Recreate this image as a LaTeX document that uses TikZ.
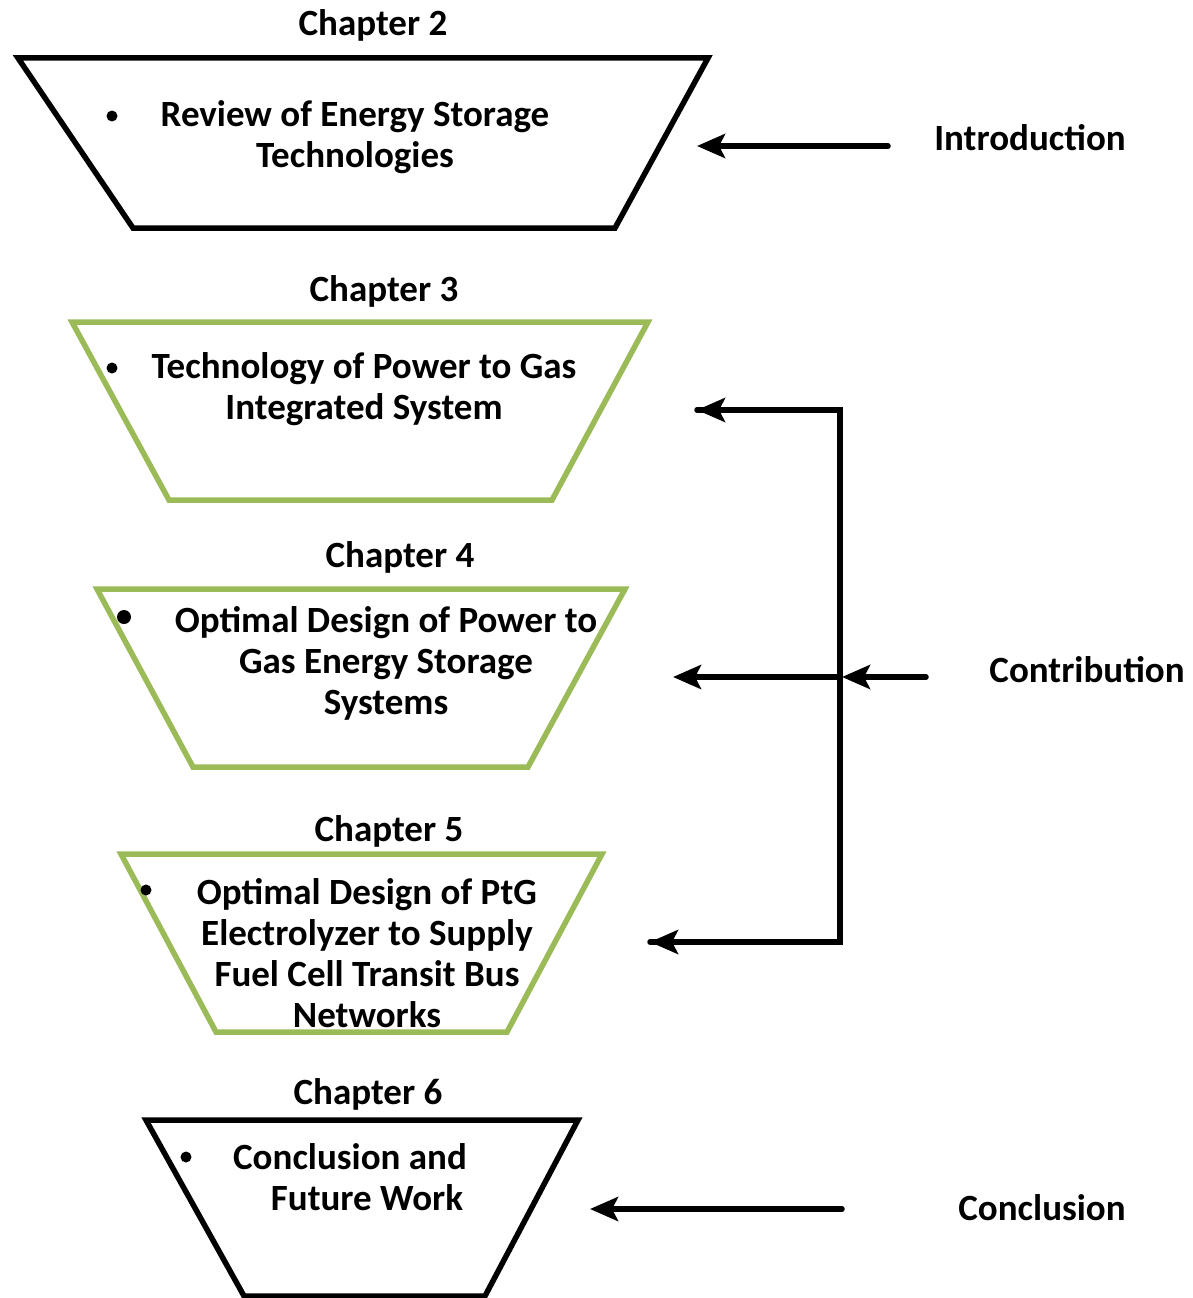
\documentclass[tikz,border=0pt]{standalone}
\usepackage{fontspec}
\setmainfont{Carlito}
\usetikzlibrary{arrows.meta}
\definecolor{olive}{HTML}{9BBB59}
\begin{document}
\begin{tikzpicture}[x=1pt,y=-1pt,
  blk/.style={line width=5.5pt, line join=miter, black},
  grn/.style={line width=5.5pt, line join=miter, olive},
  txt/.style={font=\bfseries\fontsize{37}{41}\selectfont, align=center, inner sep=0pt},
  bul/.style={circle, fill=black, inner sep=0pt, minimum size=11pt},
  arr/.style={line width=5.5pt, line cap=round, -{Stealth[length=28pt,width=24pt,inset=6pt]}},
  lnk/.style={line width=5.5pt, line cap=round}]
\useasboundingbox (0,0) rectangle (1193,1298);

% Chapter 2
\node[txt] (c2) at (373,25) {Chapter 2};
\draw[blk] (18,58) -- (708,58) -- (615,228) -- (133,228) -- cycle;
\node[bul] (b2) at (112,116) {};
\node[txt] (t2) at (355,137) {Review of Energy Storage\\Technologies};

% Chapter 3
\node[txt] (c3) at (384,291) {Chapter 3};
\draw[grn] (72,322) -- (648,322) -- (552,500) -- (169,500) -- cycle;
\node[bul] (b3) at (112,368) {};
\node[txt] (t3) at (364,389) {Technology of Power to Gas\\Integrated System};

% Chapter 4
\node[txt] (c4) at (400,557) {Chapter 4};
\draw[grn] (97,589) -- (625,589) -- (528,767) -- (193,767) -- cycle;
\node[bul, minimum size=14pt] (b4) at (124,617) {};
\node[txt] (t4) at (386,663) {Optimal Design of Power to\\Gas Energy Storage\\Systems};

% Chapter 5
\node[txt] (c5) at (389,831) {Chapter 5};
\draw[grn] (121,854) -- (602,854) -- (507,1032) -- (216,1032) -- cycle;
\node[bul] (b5) at (146,890) {};
\node[txt] (t5) at (367,953) {Optimal Design of PtG\\Electrolyzer to Supply\\Fuel Cell Transit Bus\\Networks};

% Chapter 6
\node[txt] (c6) at (368,1094) {Chapter 6};
\draw[blk] (146,1120) -- (578,1120) -- (485,1296) -- (244,1296) -- cycle;
\node[bul] (b6) at (186,1157) {};
\node[txt] (t6) at (350,1177) {Conclusion and\\\hspace*{34pt}Future Work};

% Right labels
\node[txt] (intro) at (1030,138) {Introduction};
\node[txt] (contr) at (1087,670) {Contribution};
\node[txt] (concl) at (1042,1208) {Conclusion};

% Arrow coordinates
\coordinate (i1) at (888,146);
\coordinate (i2) at (697,146);
\coordinate (vt) at (840,410);
\coordinate (vm) at (840,677);
\coordinate (vb) at (840,942);
\coordinate (a3) at (697,410);
\coordinate (a4) at (673,677);
\coordinate (a5) at (650,942);
\coordinate (cin) at (926,677);
\coordinate (cj) at (842,677);
\coordinate (e1) at (842,1209);
\coordinate (e2) at (590,1209);

\draw[arr] (i1) -- (i2);
\draw[lnk, line join=miter] (a3) -- (vt) -- (vb) -- (a5);
\draw[arr] (vt) -- (a3);
\draw[arr] (vm) -- (a4);
\draw[arr] (vb) -- (a5);
\draw[arr] (cin) -- (cj);
\draw[arr] (e1) -- (e2);
\end{tikzpicture}
\end{document}
